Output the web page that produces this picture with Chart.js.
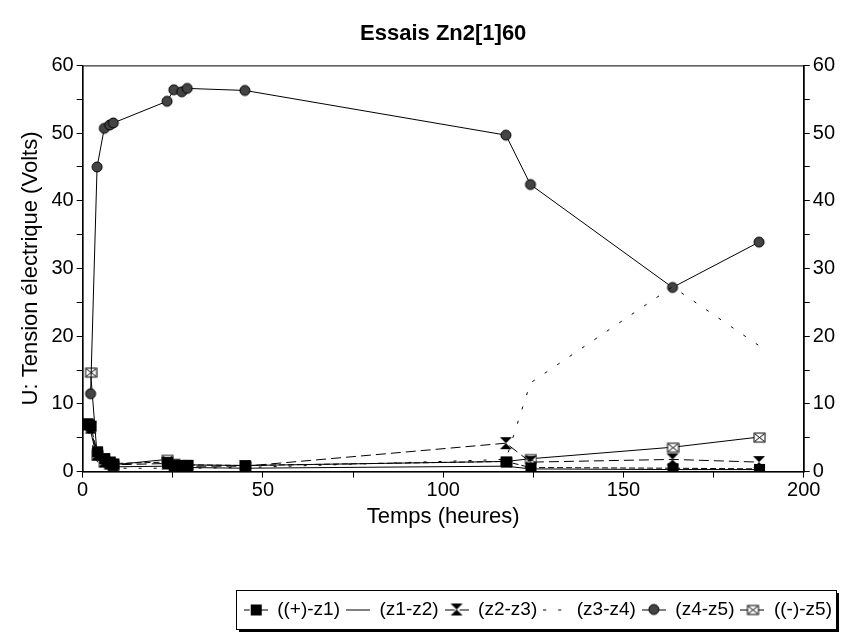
<!DOCTYPE html>
<html>
<head>
<meta charset="utf-8">
<title>Essais Zn2[1]60</title>
<script src="https://cdn.jsdelivr.net/npm/chart.js"></script>
<style>
    html, body { margin: 0; padding: 0; background: #fff; }
</style>
</head>
<body>
<canvas id="chart" width="853" height="641"></canvas>
<script>
const heures  = [1.5, 2.2, 4, 6, 7.5, 8.5, 23.4, 25.3, 27.5, 29, 45, 117.4, 124.2, 163.6, 187.6];
const plusZ1  = [7.0, 6.8, 3.0, 2.0, 1.5, 1.2, 1.4, 1.0, 0.9, 1.0, 0.9, 1.5, 0.6, 0.5, 0.4];
const z1z2    = [6.5, 6.0, 2.0, 1.0, 0.8, 0.7, 0.8, 0.6, 0.6, 0.6, 0.5, 0.8, 0.4, 0.3, 0.3];
const z2z3    = [7.0, 6.5, 2.5, 1.5, 1.2, 1.0, 1.2, 0.9, 0.8, 0.8, 0.8, 4.2, 1.4, 1.8, 1.4];
const z3z4    = [6.0, 5.0, 1.5, 0.8, 0.6, 0.5, 0.5, 0.5, 0.5, 0.5, 0.6, 1.8, 13.1, 27.3, 18.6];
const z4z5    = [null, 11.5, 45.0, 50.7, 51.2, 51.5, 54.7, 56.4, 56.1, 56.6, 56.3, 49.7, 42.4, 27.2, 33.9];
const moinsZ5 = [null, 14.7, 2.5, 1.5, 1.2, 1.0, 1.8, 1.2, 1.0, 1.0, 0.9, 1.5, 1.9, 3.6, 5.1];

const xTicks = [0, 50, 100, 150, 200];
const yTicks = [0, 10, 20, 30, 40, 50, 60];

const FONT = "'Liberation Sans', Arial, sans-serif";

// petits marqueurs dessinés à la main (sablier, carré croisé)
function drawMarker(ctx, type, cx, cy) {
    ctx.save();
    ctx.strokeStyle = '#000';
    ctx.fillStyle = '#000';
    ctx.lineWidth = 1;
    if (type === 'square') {
        ctx.fillRect(cx - 5, cy - 5, 11, 11);
    } else if (type === 'hourglass') {
        ctx.beginPath();
        ctx.moveTo(cx - 6, cy - 6);
        ctx.lineTo(cx + 6, cy - 6);
        ctx.lineTo(cx, cy);
        ctx.lineTo(cx + 6, cy + 6);
        ctx.lineTo(cx - 6, cy + 6);
        ctx.lineTo(cx, cy);
        ctx.closePath();
        ctx.fill();
    } else if (type === 'circle') {
        ctx.fillStyle = '#444';
        ctx.beginPath();
        ctx.arc(cx, cy, 5, 0, Math.PI * 2);
        ctx.fill();
        ctx.stroke();
    } else if (type === 'xbox') {
        ctx.fillStyle = '#fff';
        ctx.fillRect(cx - 5, cy - 4, 11, 9);
        ctx.strokeRect(cx - 5, cy - 4, 11, 9);
        ctx.beginPath();
        ctx.moveTo(cx - 4, cy - 3); ctx.lineTo(cx + 5, cy + 4);
        ctx.moveTo(cx + 5, cy - 3); ctx.lineTo(cx - 4, cy + 4);
        ctx.stroke();
    }
    ctx.restore();
}

function makeMarker(type) {
    const c = document.createElement('canvas');
    c.width = 14;
    c.height = 14;
    drawMarker(c.getContext('2d'), type, 7, 7);
    return c;
}

function makeLegendIcon(type, dash) {
    const c = document.createElement('canvas');
    c.width = 24;
    c.height = 14;
    const ctx = c.getContext('2d');
    ctx.strokeStyle = '#000';
    ctx.lineWidth = 1;
    ctx.setLineDash(dash);
    ctx.beginPath();
    ctx.moveTo(0, 7.5);
    ctx.lineTo(24, 7.5);
    ctx.stroke();
    ctx.setLineDash([]);
    if (type) drawMarker(ctx, type, 12, 7);
    return c;
}

function serie(label, values, marker, dash) {
    return {
        label: label,
        data: heures.map((h, i) => ({ x: h, y: values[i] })),
        borderColor: '#000',
        backgroundColor: '#000',
        borderWidth: 1,
        borderDash: dash,
        pointStyle: marker ? makeMarker(marker) : false,
        pointRadius: marker ? 6 : 0,
        legendIcon: makeLegendIcon(marker, dash),
        tension: 0
    };
}

// cadre autour de la zone de tracé et de la légende, titre centré sur le tracé
const cadres = {
    id: 'cadres',
    afterLayout(chart) {
        chart.titleBlock.left = chart.chartArea.left;
        chart.titleBlock.right = chart.chartArea.right;
    },
    afterDraw(chart) {
        const ctx = chart.ctx;
        const a = chart.chartArea;
        ctx.save();
        ctx.strokeStyle = '#000';
        ctx.lineWidth = 1;
        ctx.strokeRect(a.left + 0.5, a.top + 0.5, a.right - a.left, a.bottom - a.top);

        const boxes = chart.legend.legendHitBoxes;
        if (boxes && boxes.length) {
            const l = Math.min(...boxes.map(b => b.left)) - 8;
            const r = Math.max(...boxes.map(b => b.left + b.width)) + 4;
            const t = Math.min(...boxes.map(b => b.top)) - 10;
            const btm = Math.max(...boxes.map(b => b.top + b.height)) + 10;
            ctx.strokeRect(Math.round(l) + 0.5, Math.round(t) + 0.5, Math.round(r - l), Math.round(btm - t));
            ctx.lineWidth = 2;
            ctx.beginPath();
            ctx.moveTo(Math.round(r) + 2, Math.round(t) + 3);
            ctx.lineTo(Math.round(r) + 2, Math.round(btm) + 2);
            ctx.lineTo(Math.round(l) + 3, Math.round(btm) + 2);
            ctx.stroke();
        }
        ctx.restore();
    }
};

function axeY(position, withTitle) {
    return {
        type: 'linear',
        position: position,
        min: 0,
        max: 60,
        ticks: {
            stepSize: 5,
            autoSkip: false,
            color: '#000',
            font: { family: FONT, size: 20 },
            padding: 3,
            callback: v => yTicks.includes(v) ? v : ''
        },
        grid: { drawOnChartArea: false, color: '#000', tickLength: 6 },
        border: { color: '#000' },
        title: {
            display: withTitle,
            text: 'U: Tension électrique (Volts)',
            color: '#000',
            font: { family: FONT, size: 22 },
            padding: { top: 0, bottom: 4 }
        }
    };
}

new Chart(document.getElementById('chart'), {
    type: 'line',
    data: {
        datasets: [
            serie('((+)-z1)', plusZ1, 'square', [6, 3]),
            serie('(z1-z2)', z1z2, null, []),
            serie('(z2-z3)', z2z3, 'hourglass', [10, 5]),
            serie('(z3-z4)', z3z4, null, [3, 12]),
            serie('(z4-z5)', z4z5, 'circle', []),
            serie('((-)-z5)', moinsZ5, 'xbox', [])
        ]
    },
    plugins: [cadres],
    options: {
        responsive: false,
        animation: false,
        spanGaps: true,
        layout: { padding: { left: 18, right: 15, top: 0, bottom: 12 } },
        scales: {
            x: {
                type: 'linear',
                min: 0,
                max: 200,
                ticks: {
                    stepSize: 25,
                    autoSkip: false,
                    maxRotation: 0,
                    color: '#000',
                    font: { family: FONT, size: 20 },
                    padding: 1,
                    callback: v => xTicks.includes(v) ? v : ''
                },
                grid: { drawOnChartArea: false, color: '#000', tickLength: 6 },
                border: { color: '#000' },
                title: {
                    display: true,
                    text: 'Temps (heures)',
                    color: '#000',
                    font: { family: FONT, size: 22 },
                    padding: { top: 0, bottom: 64 }
                }
            },
            y: axeY('left', true),
            y2: axeY('right', false)
        },
        plugins: {
            title: {
                display: true,
                text: 'Essais Zn2[1]60',
                color: '#000',
                font: { family: FONT, size: 22, weight: 'bold' },
                padding: { top: 21, bottom: 18 }
            },
            legend: {
                position: 'bottom',
                align: 'end',
                labels: {
                    usePointStyle: true,
                    pointStyleWidth: 24,
                    boxHeight: 12,
                    padding: 6,
                    color: '#000',
                    font: { family: FONT, size: 19 },
                    generateLabels(chart) {
                        return chart.data.datasets.map((ds, i) => ({
                            text: ds.label,
                            pointStyle: ds.legendIcon,
                            fillStyle: '#000',
                            strokeStyle: '#000',
                            lineWidth: 0,
                            hidden: false,
                            datasetIndex: i
                        }));
                    }
                }
            },
            tooltip: { enabled: false }
        }
    }
});
</script>
</body>
</html>
